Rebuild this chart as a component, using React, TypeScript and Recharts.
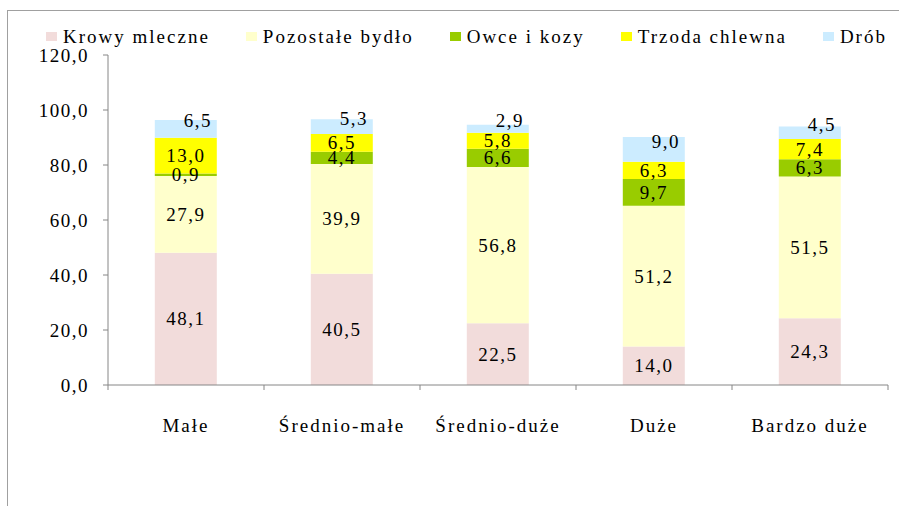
import React from "react";
import { BarChart, Bar, XAxis, YAxis, Legend, LabelList } from "recharts";

const CATEGORIES = ["Małe", "Średnio-małe", "Średnio-duże", "Duże", "Bardzo duże"];
const KROWY = [48.1, 40.5, 22.5, 14.0, 24.3];
const BYDLO = [27.9, 39.9, 56.8, 51.2, 51.5];
const OWCE = [0.9, 4.4, 6.6, 9.7, 6.3];
const TRZODA = [13.0, 6.5, 5.8, 6.3, 7.4];
const DROB = [6.5, 5.3, 2.9, 9.0, 4.5];
const Y_TICKS = [0, 20, 40, 60, 80, 100, 120];

const SERIES = [
  { key: "krowy", name: "Krowy mleczne", color: "#F2DCDB" },
  { key: "bydlo", name: "Pozostałe bydło", color: "#FFFFCC" },
  { key: "owce", name: "Owce i kozy", color: "#99CC00" },
  { key: "trzoda", name: "Trzoda chlewna", color: "#FFFF00" },
  { key: "drob", name: "Drób", color: "#CCECFF" },
];

const data = CATEGORIES.map((name, i) => ({
  name,
  krowy: KROWY[i],
  bydlo: BYDLO[i],
  owce: OWCE[i],
  trzoda: TRZODA[i],
  drob: DROB[i],
}));

const FONT = "Liberation Serif";
const fmt = (v: any) => Number(v).toFixed(1).replace(".", ",");

// numbers and words are a touch stretched in the source, letter spacing fakes that
const numStyle = { fontFamily: FONT, fontSize: 19, letterSpacing: 1.5 };
const wordStyle = { fontFamily: FONT, fontSize: 19, letterSpacing: 2 };

// x ticks: Excel style, tick marks sit between categories
const CategoryTick = (props: any) => {
  const { x, y, payload, index } = props;
  const half = payload && payload.offset ? payload.offset : 78;
  return (
    <g>
      <line x1={x - half} x2={x - half} y1={y} y2={y + 5} stroke="#868686" />
      {index === CATEGORIES.length - 1 && (
        <line x1={x + half} x2={x + half} y1={y} y2={y + 5} stroke="#868686" />
      )}
      <text x={x} y={y + 47} textAnchor="middle" fill="#000" style={wordStyle}>
        {payload.value}
      </text>
    </g>
  );
};

const YTick = (props: any) => {
  const { x, y, payload } = props;
  return (
    <text x={x} y={y} textAnchor="end" dominantBaseline="central" fill="#000" style={numStyle}>
      {fmt(payload.value)}
    </text>
  );
};

const SegLabel = (props: any) => {
  const { x, y, width, height, value } = props;
  return (
    <text x={x + width / 2} y={y + height / 2} textAnchor="middle" dominantBaseline="central" fill="#000" style={numStyle}>
      {fmt(value)}
    </text>
  );
};

// Drób labels sit a bit right and above centre, like in the source
const DrobLabel = (props: any) => {
  const { x, y, width, height, value } = props;
  return (
    <text x={x + width / 2 + 12} y={y + height / 2 - 8} textAnchor="middle" dominantBaseline="central" fill="#000" style={numStyle}>
      {fmt(value)}
    </text>
  );
};

const LegendContent = () => (
  <div style={{ display: "flex", alignItems: "center", lineHeight: "21px", whiteSpace: "nowrap" }}>
    {SERIES.map((s) => (
      <div key={s.key} style={{ display: "flex", alignItems: "center", marginRight: 36 }}>
        <span style={{ display: "inline-block", width: 11, height: 9, background: s.color, marginRight: 6 }} />
        <span style={{ ...wordStyle, color: "#000" }}>{s.name}</span>
      </div>
    ))}
  </div>
);

export default function App() {
  return (
    <div style={{ position: "absolute", left: 0, top: 0, width: 899, height: 506, background: "#fff", overflow: "hidden" }}>
      <div
        style={{
          position: "absolute",
          left: 7,
          top: 10,
          width: 1000,
          height: 600,
          borderLeft: "1px solid #a0a0a0",
          borderTop: "1px solid #a0a0a0",
        }}
      />
      <div style={{ position: "absolute", left: 0, top: 0 }}>
        <BarChart
          width={899}
          height={506}
          data={data}
          margin={{ top: 55, right: 11, left: 0, bottom: 81 }}
          barCategoryGap="30%"
        >
          <XAxis
            dataKey="name"
            height={40}
            axisLine={{ stroke: "#868686" }}
            tickLine={false}
            tickSize={0}
            tickMargin={0}
            interval={0}
            tick={<CategoryTick />}
          />
          <YAxis
            width={108}
            domain={[0, 120]}
            ticks={Y_TICKS}
            interval={0}
            axisLine={{ stroke: "#868686" }}
            tickLine={{ stroke: "#868686" }}
            tickSize={5}
            tickMargin={14}
            tick={<YTick />}
          />
          <Legend
            layout="horizontal"
            verticalAlign="middle"
            content={<LegendContent />}
            wrapperStyle={{ top: 26, left: 46, width: "auto" }}
          />
          {SERIES.map((s) => (
            <Bar key={s.key} dataKey={s.key} name={s.name} stackId="a" fill={s.color} isAnimationActive={false}>
              <LabelList dataKey={s.key} content={s.key === "drob" ? <DrobLabel /> : <SegLabel />} />
            </Bar>
          ))}
        </BarChart>
      </div>
    </div>
  );
}
